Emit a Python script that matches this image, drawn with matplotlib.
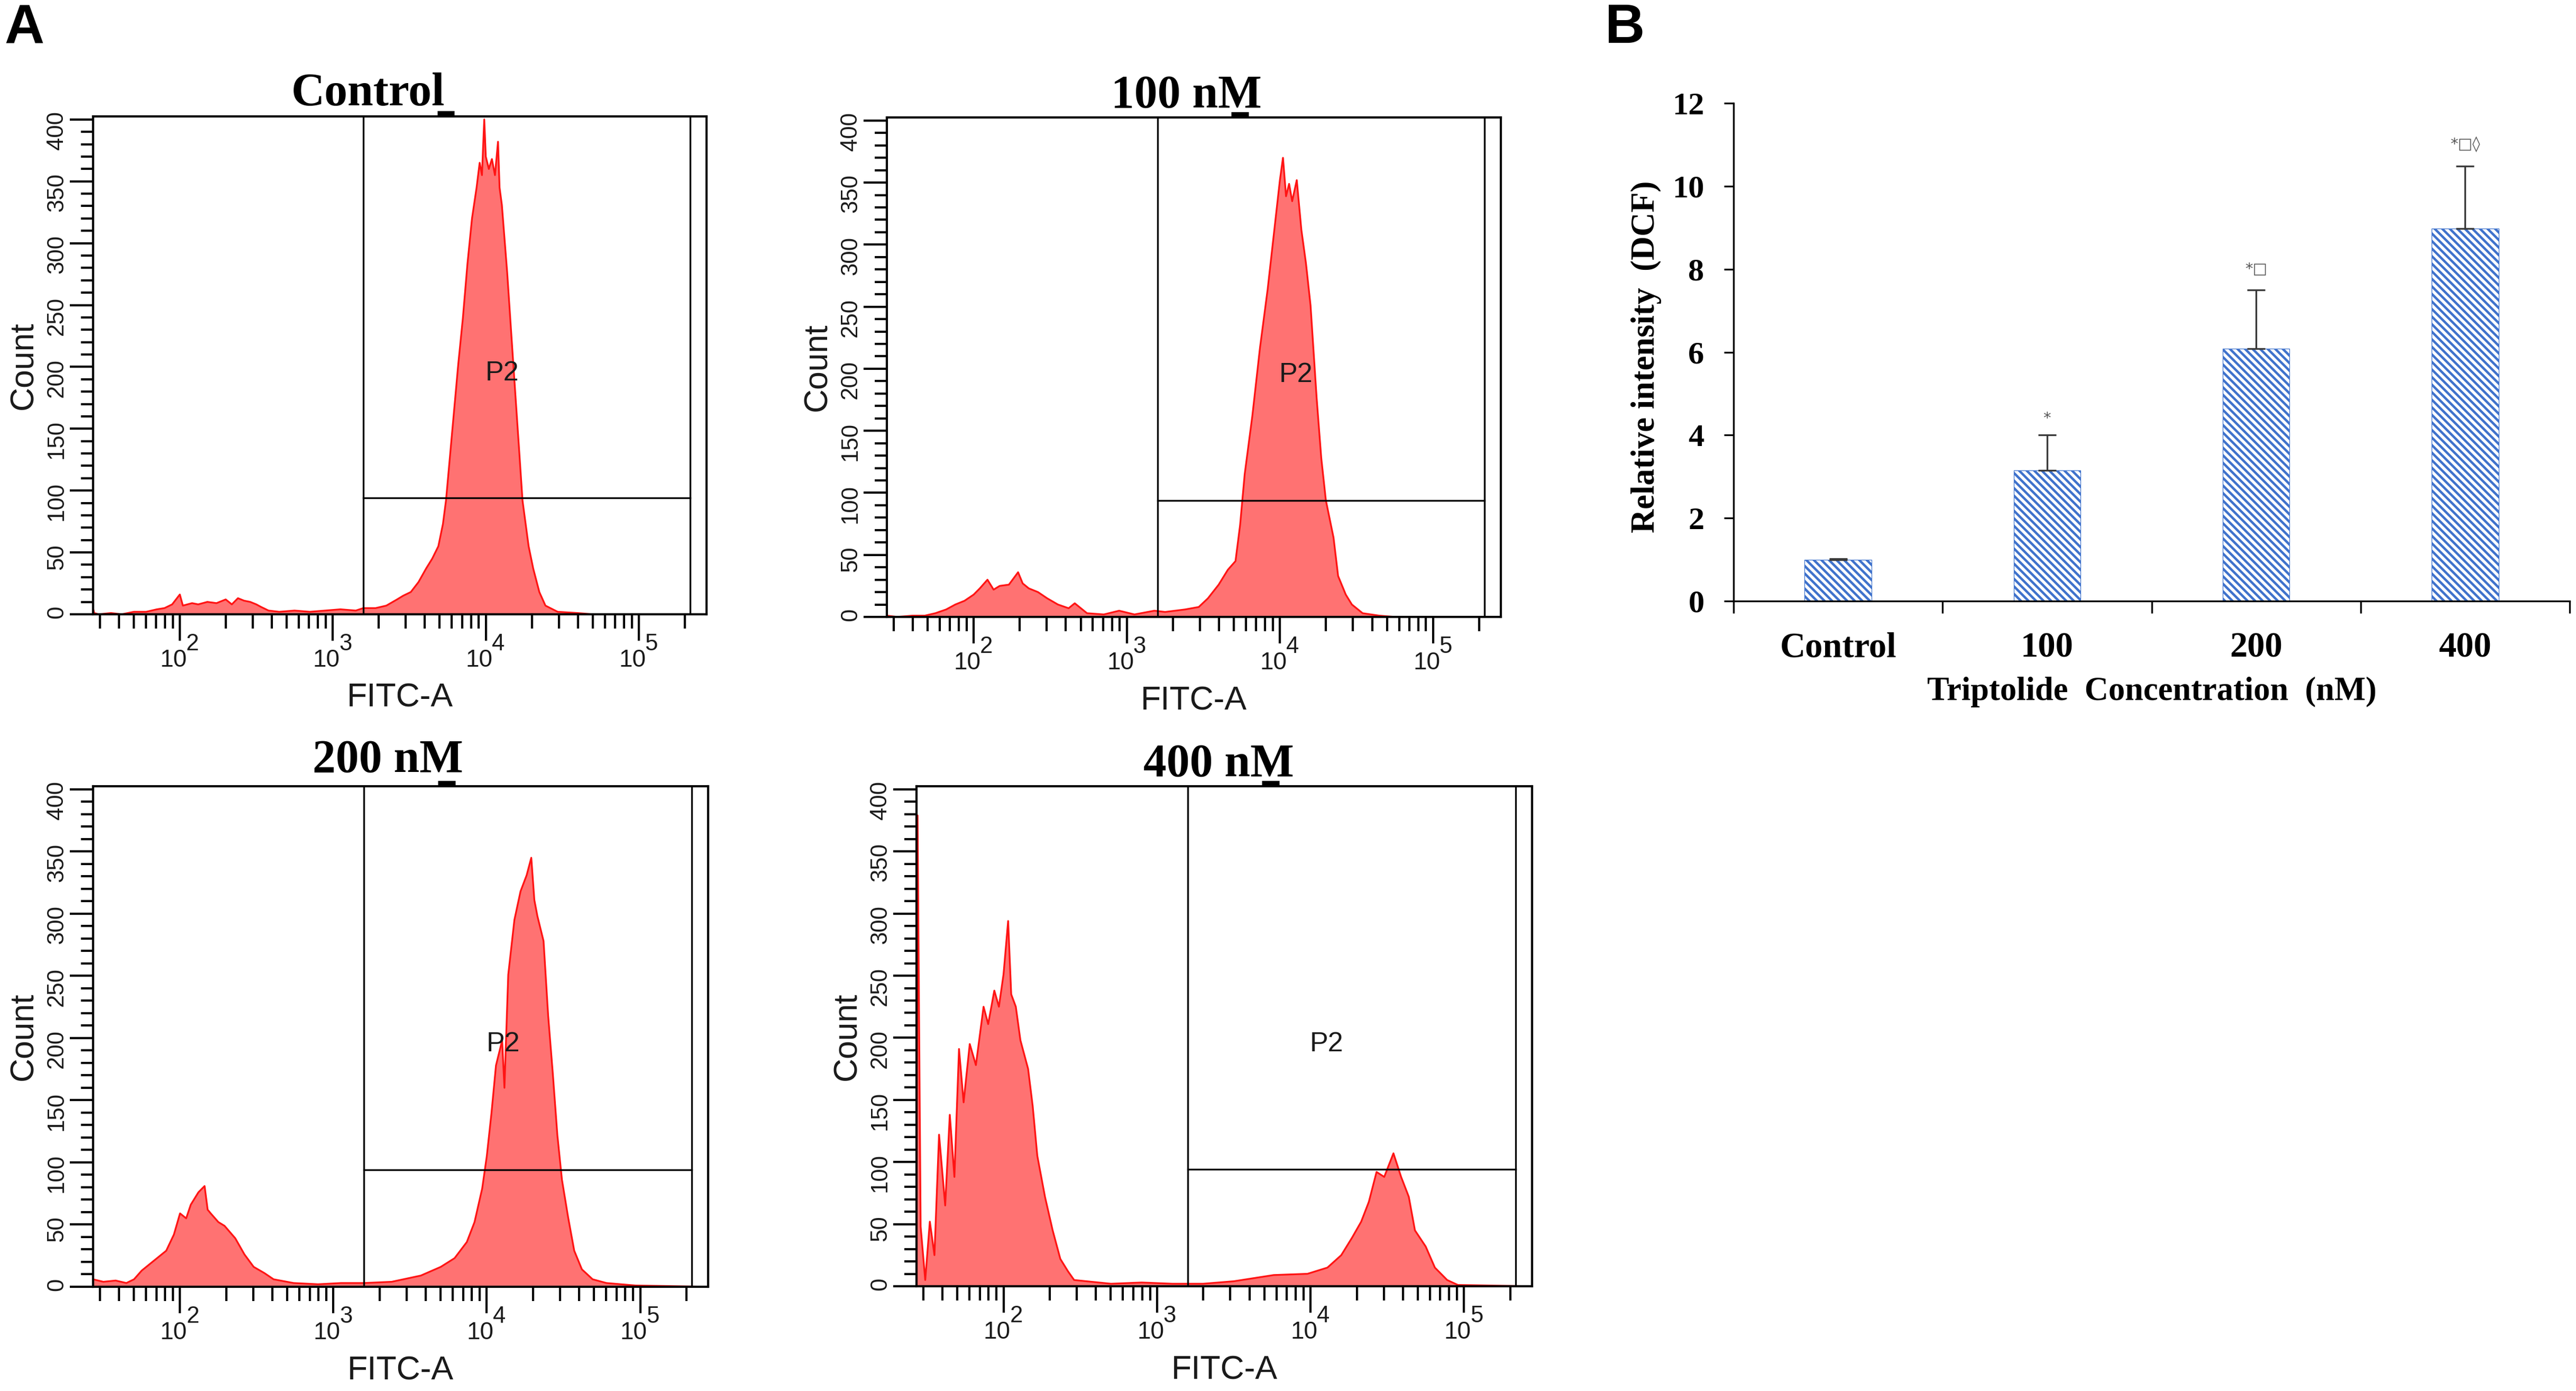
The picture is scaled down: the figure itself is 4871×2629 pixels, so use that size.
import numpy as np
import matplotlib
matplotlib.use('Agg')
import matplotlib.pyplot as plt
from matplotlib.ticker import MultipleLocator, LogLocator, NullFormatter
from matplotlib.transforms import blended_transform_factory

plt.rcParams['font.family'] = ['Liberation Sans', 'DejaVu Sans']
plt.rcParams['mathtext.default'] = 'regular'
plt.rcParams['hatch.linewidth'] = 1.1

SERIF = ['Liberation Serif', 'DejaVu Serif']

# ---- panel A : flow cytometry histograms (log10 FITC-A, count) ----
control_log = [1.433, 1.44, 1.47, 1.55, 1.62, 1.70, 1.78, 1.85, 1.90, 1.95,
               2.00, 2.02, 2.08, 2.12, 2.18, 2.24, 2.30, 2.34, 2.38, 2.42,
               2.46, 2.50, 2.53, 2.58, 2.65, 2.75, 2.85, 2.95, 3.05, 3.15,
               3.20, 3.28, 3.35, 3.42, 3.46, 3.51, 3.56, 3.61, 3.65, 3.69,
               3.72, 3.74, 3.78, 3.82, 3.85, 3.88, 3.91, 3.94, 3.96, 3.975,
               3.99, 4.00, 4.02, 4.04, 4.06, 4.08, 4.09, 4.105, 4.14, 4.18,
               4.22, 4.24, 4.28, 4.31, 4.35, 4.39, 4.47, 4.60, 4.70, 5.44]
control_count = [5, 1, 0, 1, 0, 2, 2, 4, 5, 8,
                 16, 7, 9, 8, 10, 9, 12, 8, 13, 11,
                 10, 8, 6, 3, 2, 3, 2, 3, 4, 3,
                 5, 5, 7, 12, 15, 18, 26, 37, 45, 55,
                 73, 92, 147, 202, 239, 283, 320, 345, 365, 355,
                 400, 370, 360, 368, 355, 382, 345, 331, 276, 202,
                 129, 92, 55, 37, 18, 7, 2, 1, 0, 0]

nm100_log = [1.433, 1.50, 1.60, 1.68, 1.75, 1.82, 1.88, 1.94, 2.00, 2.04,
             2.09, 2.13, 2.17, 2.23, 2.29, 2.32, 2.36, 2.42, 2.48, 2.55,
             2.62, 2.66, 2.74, 2.85, 2.95, 3.05, 3.18, 3.25, 3.38, 3.47,
             3.53, 3.60, 3.66, 3.71, 3.74, 3.77, 3.82, 3.87, 3.92, 3.96,
             4.00, 4.02, 4.04, 4.06, 4.08, 4.11, 4.14, 4.17, 4.20, 4.24,
             4.27, 4.30, 4.35, 4.38, 4.43, 4.47, 4.54, 4.65, 4.75, 5.44]
nm100_count = [1, 0, 1, 1, 3, 6, 10, 13, 18, 23,
               30, 22, 25, 26, 36, 27, 23, 20, 15, 10,
               7, 11, 3, 2, 5, 2, 5, 4, 6, 8,
               15, 26, 38, 45, 74, 115, 162, 217, 264, 308,
               352, 370, 339, 349, 335, 352, 312, 285, 251, 176,
               128, 94, 64, 33, 18, 10, 3, 1, 0, 0]

nm200_log = [1.433, 1.50, 1.58, 1.65, 1.70, 1.75, 1.80, 1.85, 1.91, 1.96,
             2.00, 2.04, 2.07, 2.12, 2.16, 2.18, 2.20, 2.25, 2.29, 2.36,
             2.42, 2.48, 2.55, 2.61, 2.74, 2.90, 3.05, 3.20, 3.38, 3.57,
             3.70, 3.79, 3.87, 3.92, 3.97, 4.00, 4.03, 4.06, 4.10, 4.115,
             4.13, 4.14, 4.18, 4.22, 4.26, 4.29, 4.31, 4.33, 4.37, 4.40,
             4.43, 4.46, 4.49, 4.53, 4.57, 4.62, 4.69, 4.78, 4.97, 5.44]
nm200_count = [6, 4, 5, 3, 6, 13, 18, 23, 29, 42,
               59, 55, 66, 76, 81, 62, 59, 52, 49, 39,
               26, 16, 11, 6, 3, 2, 3, 3, 4, 9,
               16, 23, 36, 52, 79, 105, 139, 178, 198, 160,
               215, 251, 295, 318, 331, 345, 311, 298, 278, 218,
               172, 122, 86, 56, 29, 14, 6, 3, 1, 0]

nm400_log = [1.433, 1.44, 1.46, 1.49, 1.52, 1.55, 1.58, 1.62, 1.65, 1.68,
             1.71, 1.74, 1.78, 1.82, 1.87, 1.90, 1.94, 1.97, 2.00, 2.03,
             2.05, 2.08, 2.11, 2.16, 2.19, 2.22, 2.27, 2.32, 2.37, 2.42,
             2.46, 2.54, 2.70, 2.90, 3.10, 3.30, 3.50, 3.76, 3.98, 4.11,
             4.20, 4.27, 4.33, 4.38, 4.43, 4.48, 4.54, 4.59, 4.64, 4.68,
             4.75, 4.81, 4.89, 4.96, 5.44]
nm400_count = [20, 379, 48, 5, 52, 25, 122, 65, 138, 88,
               191, 148, 195, 178, 225, 211, 238, 225, 251, 294,
               235, 225, 198, 175, 145, 105, 72, 45, 22, 12,
               5, 4, 2, 3, 2, 2, 4, 9, 10, 15,
               25, 39, 52, 68, 92, 88, 107, 88, 72, 45,
               32, 15, 5, 1, 0]

hist_titles = ['Control', '100 nM', '200 nM', '400 nM']
decades = [2, 3, 4, 5]

# P2 gate (FITC-A limits, count threshold)
gate_lo, gate_hi, gate_count = 10 ** 3.2, 10 ** 5.336, 94

# ---- panel B : DCF relative intensity ----
categories = ['Control', '100', '200', '400']
dcf_mean = [1.0, 3.15, 6.08, 8.98]
dcf_err = [0.02, 0.85, 1.42, 1.5]
signif = ['', '*', '*\u25a1', '*\u25a1\u25ca']
signif_y = [0, 4.4, 8.0, 11.0]

W, H = 4871, 2629
fig = plt.figure(figsize=(W / 300, H / 300), dpi=300)


def px_axes(left, top, right, bottom):
    return fig.add_axes([left / W, 1 - bottom / H, (right - left) / W, (bottom - top) / H])


def draw_hist(ax, logs, counts, title, title_x, title_y):
    fitc = 10 ** np.array(logs)
    ax.fill_between(fitc, counts, 0, color='#ff7272', lw=0)
    ax.plot(fitc, counts, color='#ff1414', lw=0.8)
    ax.set_xscale('log')
    ax.set_xlim(10 ** 1.433, 10 ** 5.443)
    ax.set_ylim(0, 402.5)

    ax.axvline(gate_lo, color='black', lw=0.8)
    ax.axvline(gate_hi, color='black', lw=0.8)
    ax.plot([gate_lo, gate_hi], [gate_count, gate_count], color='black', lw=0.8)
    ax.text(10 ** 4.106, 195, 'P2', ha='center', va='center', fontsize=12.5, color='#1a1a1a')

    ax.xaxis.set_major_locator(LogLocator(base=10, numticks=10))
    ax.xaxis.set_minor_locator(LogLocator(base=10, subs=np.arange(2, 10) * 1.0, numticks=20))
    ax.xaxis.set_minor_formatter(NullFormatter())
    ax.set_yticks(np.arange(0, 401, 50))
    ax.yaxis.set_minor_locator(MultipleLocator(10))

    ax.tick_params(axis='x', which='major', direction='out', length=12, width=1.0,
                   labelbottom=False)
    ax.tick_params(axis='x', which='minor', direction='out', length=6.5, width=1.0)
    ax.tick_params(axis='y', which='major', direction='out', length=10.5, width=1.0, pad=1,
                   labelsize=10.5, labelrotation=90, labelcolor='#1a1a1a')
    ax.tick_params(axis='y', which='minor', direction='out', length=5.5, width=1.0)
    for sp in ax.spines.values():
        sp.set_linewidth(1.0)

    # decade labels drawn as "10" plus a near full-size exponent, like the cytometer export
    trans = blended_transform_factory(ax.transData, ax.transAxes)
    for d in decades:
        ax.text(10 ** (d - 0.042), -0.092, '10', transform=trans, ha='center', va='center',
                fontsize=11, color='#1a1a1a')
        ax.text(10 ** (d + 0.083), -0.060, str(d), transform=trans, ha='center', va='center',
                fontsize=10.5, color='#1a1a1a')

    ax.text(-0.113, 0.5, 'Count', transform=ax.transAxes, rotation=90,
            ha='center', va='center', fontsize=15, color='#1a1a1a')
    ax.text(0.5, -0.168, 'FITC-A', transform=ax.transAxes,
            ha='center', va='center', fontsize=15, color='#1a1a1a')
    ax.text(title_x, title_y, title, transform=ax.transAxes, ha='center', va='baseline',
            fontsize=21, fontweight='bold', family=SERIF)
    ax.plot([0.561, 0.589], [1.0065, 1.0065], transform=ax.transAxes, color='black',
            lw=2.2, solid_capstyle='butt', clip_on=False)


ax1 = px_axes(176, 220, 1336, 1161)
draw_hist(ax1, control_log, control_count, hist_titles[0], 0.448, 1.022)
ax2 = px_axes(1677, 222, 2838, 1166)
draw_hist(ax2, nm100_log, nm100_count, hist_titles[1], 0.488, 1.021)
ax3 = px_axes(176, 1486, 1339, 2432)
draw_hist(ax3, nm200_log, nm200_count, hist_titles[2], 0.479, 1.029)
ax4 = px_axes(1733, 1486, 2897, 2431)
draw_hist(ax4, nm400_log, nm400_count, hist_titles[3], 0.491, 1.020)

# ---- panel B ----
axb = px_axes(3278, 195, 4859, 1136)
xpos = np.arange(len(categories)) + 0.5
axb.bar(xpos, dcf_mean, width=0.32, color='white', edgecolor='#3f72cc',
        hatch='\\' * 7, linewidth=0.3)
axb.errorbar(xpos, dcf_mean, yerr=[np.zeros(len(dcf_err)), dcf_err], fmt='none',
             ecolor='#3a3a3a', elinewidth=0.8, capsize=4, capthick=0.8)
for x, s, y in zip(xpos, signif, signif_y):
    if s:
        axb.text(x, y, s, ha='center', va='center', fontsize=7, color='#555555',
                 family=['DejaVu Sans'])

axb.set_xlim(0, 4)
axb.set_ylim(0, 12)
axb.set_xticks(np.arange(0, 5), labels=[])
axb.set_xticks(xpos, labels=categories, minor=True, fontsize=16, fontweight='bold', family=SERIF)
axb.set_yticks(np.arange(0, 13, 2), labels=[str(v) for v in range(0, 13, 2)],
               fontsize=14.5, fontweight='bold', family=SERIF)
axb.tick_params(axis='x', which='major', direction='out', length=5.5, width=0.8)
axb.tick_params(axis='x', which='minor', length=0, pad=14)
axb.tick_params(axis='y', which='major', direction='out', length=4.3, width=0.8, pad=9)
axb.spines['top'].set_visible(False)
axb.spines['right'].set_visible(False)
axb.spines['left'].set_linewidth(0.8)
axb.spines['bottom'].set_linewidth(0.8)
axb.text(0.5, -(1308 - 1136) / 941, 'Triptolide  Concentration  (nM)', transform=axb.transAxes,
         ha='center', va='center', fontsize=15, fontweight='bold', family=SERIF)
axb.text((3113 - 3278) / 1581, (1136 - 674) / 941, 'Relative intensity  (DCF)',
         transform=axb.transAxes, rotation=90, ha='center', va='center',
         fontsize=15, fontweight='bold', family=SERIF)

fig.text(8 / W, 1 - 6 / H, 'A', ha='left', va='top', fontsize=25, fontweight='bold')
fig.text(3035 / W, 1 - 6 / H, 'B', ha='left', va='top', fontsize=25, fontweight='bold')

fig.savefig('out.png', dpi=300)
